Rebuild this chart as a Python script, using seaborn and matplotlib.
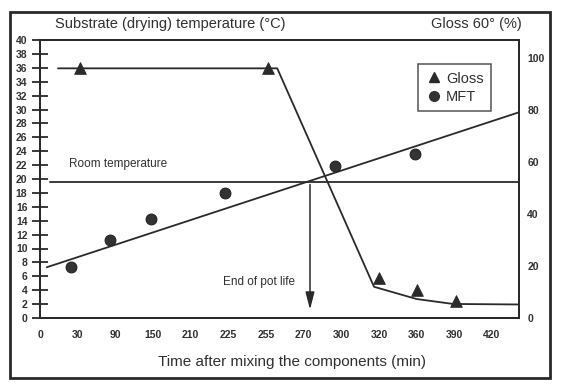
import matplotlib
matplotlib.use("Agg")
import matplotlib.pyplot as plt
import seaborn as sns
import pandas as pd
from matplotlib.patches import Rectangle
from matplotlib.lines import Line2D

# time axis is drawn with equal spacing per tick label (ordinal scale)
time_labels = ["0", "30", "90", "150", "210", "225", "255", "270", "300", "320", "360", "390", "420"]

# gloss measurements (right axis, %) - x given in tick-index units
gloss_pos = [1.05, 6.05, 9.0, 10.0, 11.05]
gloss_val = [96, 96, 15.4, 10.8, 6.5]
# gloss trend line
gloss_line_pos = [0.48, 6.3, 8.87, 10.0, 10.97, 12.72]
gloss_line_val = [96, 96, 12, 7.3, 5.4, 5.2]

# MFT measurements (left axis, degC)
mft_pos = [0.82, 1.86, 2.94, 4.9, 7.83, 9.95]
mft_val = [7.4, 11.2, 14.2, 18.0, 21.9, 23.6]
mft_line_pos = [0.18, 12.72]
mft_line_val = [7.3, 29.6]

room_temp = 19.6
room_temp_start = 0.27
pot_life_pos = 7.17

sns.set_style("white")
plt.rcParams["font.family"] = ["Liberation Sans", "DejaVu Sans"]
ink = "#2a2a2a"
txt = "#303030"

fig = plt.figure(figsize=(5.64, 3.91), dpi=100)
ax = fig.add_axes([40 / 564, 1 - 318 / 391, 479 / 564, 278 / 391])
ax2 = ax.twinx()

mft_df = pd.DataFrame({"pos": mft_pos, "val": mft_val})
mft_ln = pd.DataFrame({"pos": mft_line_pos, "val": mft_line_val})
gloss_df = pd.DataFrame({"pos": gloss_pos, "val": gloss_val})
gloss_ln = pd.DataFrame({"pos": gloss_line_pos, "val": gloss_line_val})

# left axis: MFT and room temperature
sns.lineplot(data=mft_ln, x="pos", y="val", ax=ax, color=ink, lw=1.3)
sns.scatterplot(data=mft_df, x="pos", y="val", ax=ax, color="#333333", s=60,
                marker="o", edgecolor="#222222", linewidth=0.8, zorder=5)
ax.plot([room_temp_start, 12.72], [room_temp, room_temp], color=ink, lw=1.3)
ax.text(0.78, room_temp + 1.7, "Room temperature", fontsize=8.5, color=txt, va="bottom")
ax.annotate("", xy=(pot_life_pos, 0.8), xytext=(pot_life_pos, room_temp),
            arrowprops=dict(arrowstyle="-|>,head_length=0.7,head_width=0.18", color=ink,
                            lw=1.1, mutation_scale=15))
ax.text(pot_life_pos - 0.4, 4.8, "End of pot life", fontsize=8.5, color=txt, ha="right")

# right axis: gloss
sns.lineplot(data=gloss_ln, x="pos", y="val", ax=ax2, color=ink, lw=1.3)
sns.scatterplot(data=gloss_df, x="pos", y="val", ax=ax2, color="#2a2a2a", s=70,
                marker="^", edgecolor="#2a2a2a", zorder=5)

ax.set_xlim(0, 12.72)
ax.set_ylim(0, 40)
ax2.set_ylim(0, 106.9)
ax.set_xticks(range(len(time_labels)))
ax.set_xticklabels(time_labels)
ax.set_yticks(range(0, 41, 2))
ax2.set_yticks(range(0, 101, 20))
ax.set_xlabel("")
ax.set_ylabel("")
ax2.set_ylabel("")

ax.tick_params(axis="both", direction="inout", length=12, width=1.3, color=ink,
               labelsize=7.5, labelcolor=txt)
ax.tick_params(axis="x", pad=3)
ax.tick_params(axis="y", pad=3)
ax2.tick_params(axis="y", length=0, pad=6, labelsize=7.5, labelcolor=txt)
for lbl in ax.get_xticklabels() + ax.get_yticklabels() + ax2.get_yticklabels():
    lbl.set_fontweight("bold")
for a in (ax, ax2):
    for s in a.spines.values():
        s.set_color(ink)
        s.set_linewidth(1.4)

# legend
handles = [Line2D([], [], marker="^", ls="", color="#2a2a2a", ms=7),
           Line2D([], [], marker="o", ls="", color="#333333", ms=7)]
leg = ax2.legend(handles, ["Gloss", "MFT"], loc="upper left",
                 bbox_to_anchor=(411 / 564, 1 - 57 / 391), bbox_transform=fig.transFigure,
                 frameon=True, fancybox=False, fontsize=10.5, handletextpad=0.2,
                 borderpad=0.5, labelspacing=0.3, handlelength=1.2)
leg.get_frame().set_edgecolor(ink)
leg.get_frame().set_linewidth(1.1)
for t in leg.get_texts():
    t.set_color(txt)

# titles and axis label
fig.text(55 / 564, 1 - 24 / 391, "Substrate (drying) temperature (\u00b0C)", fontsize=10.5,
         color=txt, va="center", ha="left")
fig.text(522 / 564, 1 - 24 / 391, "Gloss 60\u00b0 (%)", fontsize=10.5, color=txt,
         va="center", ha="right")
fig.text(292 / 564, 1 - 362 / 391, "Time after mixing the components (min)", fontsize=11,
         color=txt, va="center", ha="center")

# outer frame
fig.patches.append(Rectangle((10 / 564, 1 - 378 / 391), 540 / 564, 366 / 391,
                             transform=fig.transFigure, fill=False, ec=ink, lw=2.0))

fig.savefig("out.png", dpi=100)
